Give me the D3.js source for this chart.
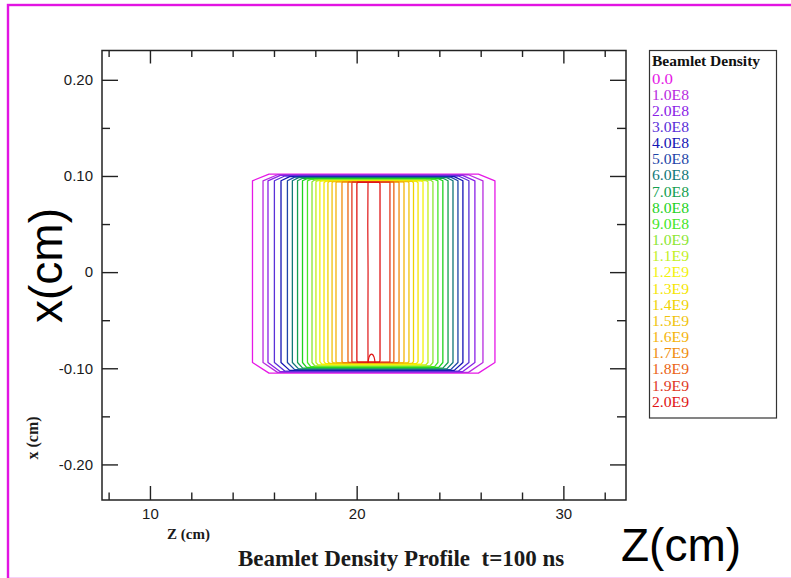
<!DOCTYPE html>
<html><head><meta charset="utf-8">
<script src="https://cdn.jsdelivr.net/npm/d3@7"></script>
<style>body{margin:0;background:#fff;overflow:hidden} svg{display:block}</style>
</head><body>
<svg id="c" width="791" height="578"></svg>
<script>
// ---- data ----
const levelLabels = ["0.0","1.0E8","2.0E8","3.0E8","4.0E8","5.0E8","6.0E8","7.0E8","8.0E8","9.0E8",
  "1.0E9","1.1E9","1.2E9","1.3E9","1.4E9","1.5E9","1.6E9","1.7E9","1.8E9","1.9E9","2.0E9"];
const levelColors = ["#e619e6","#b82ce0","#8a22e6","#5a30d8","#1414b4","#1e46a8","#127878","#14a050","#1ed21e","#46e628",
  "#8ce632","#c3ef1e","#f2f20a","#f5e600","#f0d200","#f0c30a","#f5b40a","#f08c0a","#eb6414","#e0381e","#e01414"];
// contour extents (z in cm, x in cm)
const zLeft   = [14.96,15.47,15.71,16.02,16.34,16.65,16.89,17.14,17.38,17.62,17.84,18.03,18.22,18.42,18.61,18.81,19.00,19.29,19.58,19.77,20.01];
const zRight  = [26.69,26.11,25.72,25.43,25.14,24.90,24.66,24.42,24.17,23.93,23.69,23.45,23.21,22.97,22.75,22.53,22.29,22.05,21.80,21.61,21.13];
const xTop    = [0.102,0.1013,0.1006,0.1,0.0994,0.0988,0.0982,0.0976,0.097,0.0964,0.0958,0.0953,0.0949,0.0946,0.0944,0.0942,0.094,0.0939,0.0938,0.0937,0.0935];
const xBottom = [-0.105,-0.1043,-0.1036,-0.1029,-0.1022,-0.1014,-0.1006,-0.0998,-0.099,-0.0982,-0.0974,-0.0966,-0.0958,-0.0952,-0.0948,-0.0945,-0.0943,-0.0941,-0.0939,-0.0937,-0.0935];
const xSideTop    = [0.095,0.095,0.095,0.095,0.095,0.095,0.095,0.095,0.095,0.095,0.094,0.094,0.094,0.093,0.093,0.093,0.093,0.093,0.093,0.093,0.092];
const xSideBottom = [-0.094,-0.094,-0.094,-0.094,-0.094,-0.094,-0.094,-0.094,-0.094,-0.094,-0.094,-0.094,-0.093,-0.093,-0.093,-0.093,-0.093,-0.093,-0.093,-0.093,-0.092];
const cornerZ = [0.80,0.70,0.60,0.50,0.42,0.35,0.30,0.25,0.20,0.16,0.13,0.11,0.09,0.08,0.07,0.06,0.05,0.05,0.04,0.04,0.03];
// inner ridge of the 2.0E9 contour and the small bump at its foot
const ridgePts = [[20.55,0.0935],[20.53,0.05],[20.56,0.0],[20.54,-0.05],[20.55,-0.0945]];
const bumpPts  = [[20.55,-0.0945],[20.58,-0.088],[20.72,-0.0838],[20.86,-0.088],[20.89,-0.0945]];
// axes
const zDomain = [7.68, 33.03];
const xDomain = [-0.237, 0.2305];
const zMajor = [10,20,30];
const zMajorLabels = ["10","20","30"];
const zMinor = [8,12,14,16,18,22,24,26,28,32];
const xMajor = [0.2,0.1,0,-0.1,-0.2];
const xMajorLabels = ["0.20","0.10","0","-0.10","-0.20"];
const xMinor = [0.15,0.05,-0.05,-0.15];
const legendTitle = "Beamlet Density";
const chartTitle = "Beamlet Density Profile\u00a0\u00a0t=100 ns";

// ---- drawing ----
const svg = d3.select("#c");
const L = 102, R = 626, T = 50.5, B = 500;
const zs = d3.scaleLinear().domain(zDomain).range([L, R]);
const xs = d3.scaleLinear().domain(xDomain).range([B, T]);

// slide frame
svg.append("rect").attr("x",8).attr("y",5).attr("width",820).attr("height",574)
  .attr("fill","none").attr("stroke","#e214e2").attr("stroke-width",2.4);

// contours
const line = d3.line().x(d=>zs(d[0])).y(d=>xs(d[1])).curve(d3.curveLinearClosed);
const openLine = d3.line().x(d=>zs(d[0])).y(d=>xs(d[1])).curve(d3.curveBasis);
const gC = svg.append("g");
levelLabels.forEach((lab,i)=>{
  const zl=zLeft[i], zr=zRight[i], c=cornerZ[i];
  const pts = [
    [zl, xSideTop[i]], [zl+c, xTop[i]], [zr-c, xTop[i]], [zr, xSideTop[i]],
    [zr, xSideBottom[i]], [zr-c, xBottom[i]], [zl+c, xBottom[i]], [zl, xSideBottom[i]]
  ];
  gC.append("path").attr("d", line(pts)).attr("fill","none")
    .attr("stroke", levelColors[i]).attr("stroke-width",1.3).attr("stroke-linejoin","round");
});
gC.append("path").attr("d", openLine(ridgePts)).attr("fill","none").attr("stroke",levelColors[20]).attr("stroke-width",1.2);
gC.append("path").attr("d", openLine(bumpPts)).attr("fill","none").attr("stroke",levelColors[20]).attr("stroke-width",1.2);

// axes
const fmtZ = d => zMajorLabels[zMajor.indexOf(d)];
const fmtX = d => xMajorLabels[xMajor.indexOf(d)];
function styleAxis(g){
  g.select(".domain").remove();
  g.selectAll("line").attr("stroke","#222").attr("stroke-width",1.4);
  g.selectAll("text").attr("fill","#1a1a1a").attr("font-family","'Liberation Sans',Arial,sans-serif").attr("font-size","15px");
}
svg.append("g").attr("transform",`translate(0,${B})`)
  .call(d3.axisBottom(zs).tickValues(zMajor).tickSize(-14).tickPadding(8).tickFormat(fmtZ)).call(styleAxis);
svg.append("g").attr("transform",`translate(0,${B})`)
  .call(d3.axisBottom(zs).tickValues(zMinor).tickSize(-7.5).tickFormat("")).call(styleAxis);
svg.append("g").attr("transform",`translate(0,${T})`)
  .call(d3.axisTop(zs).tickValues(zMajor).tickSize(-13).tickFormat("")).call(styleAxis);
svg.append("g").attr("transform",`translate(0,${T})`)
  .call(d3.axisTop(zs).tickValues(zMinor).tickSize(-6.5).tickFormat("")).call(styleAxis);
svg.append("g").attr("transform",`translate(${L},0)`)
  .call(d3.axisLeft(xs).tickValues(xMajor).tickSize(-16).tickPadding(9).tickFormat(fmtX)).call(styleAxis);
svg.append("g").attr("transform",`translate(${L},0)`)
  .call(d3.axisLeft(xs).tickValues(xMinor).tickSize(-8).tickFormat("")).call(styleAxis);
svg.append("g").attr("transform",`translate(${R},0)`)
  .call(d3.axisRight(xs).tickValues(xMajor).tickSize(-16).tickFormat("")).call(styleAxis);
svg.append("g").attr("transform",`translate(${R},0)`)
  .call(d3.axisRight(xs).tickValues(xMinor).tickSize(-9).tickFormat("")).call(styleAxis);

// plot frame
svg.append("rect").attr("x",L).attr("y",T).attr("width",R-L).attr("height",B-T)
  .attr("fill","none").attr("stroke","#222").attr("stroke-width",1.5);

// small axis titles (serif)
const serif = "'Liberation Serif','Times New Roman',serif";
svg.append("text").attr("x",167).attr("y",539).attr("font-family",serif).attr("font-weight","bold")
  .attr("font-size","15px").attr("fill","#1a1a1a").text("Z (cm)");
svg.append("text").attr("transform","translate(38,438) rotate(-90)").attr("text-anchor","middle")
  .attr("font-family",serif).attr("font-weight","bold").attr("font-size","16px").attr("fill","#1a1a1a")
  .text("x (cm)");

// chart title
svg.append("text").attr("x",238).attr("y",566).attr("font-family",serif).attr("font-weight","bold")
  .attr("font-size","23px").attr("fill","#1a1a1a").text(chartTitle);

// big annotations
svg.append("text").attr("transform","translate(62,265.5) rotate(-90)").attr("text-anchor","middle")
  .attr("font-family","'Liberation Sans',Arial,sans-serif").attr("font-size","46px").attr("fill","#000").text("x(cm)");
svg.append("text").attr("x",621).attr("y",561)
  .attr("font-family","'Liberation Sans',Arial,sans-serif").attr("font-size","46px").attr("fill","#000").text("Z(cm)");

// legend
const lg = svg.append("g");
lg.append("rect").attr("x",649.5).attr("y",50.5).attr("width",127).attr("height",367.5)
  .attr("fill","#fff").attr("stroke","#333").attr("stroke-width",1.2);
lg.append("text").attr("x",652).attr("y",66).attr("font-family",serif).attr("font-weight","bold")
  .attr("font-size","15.5px").attr("fill","#111").text(legendTitle);
const ly = d3.scalePoint().domain(levelLabels).range([83.5, 406.7]);
lg.selectAll("text.lv").data(levelLabels).join("text").attr("class","lv")
  .attr("x",652).attr("y",d=>ly(d)).attr("font-family",serif).attr("font-size","14px")
  .attr("textLength",d=>d.length===3?21:37).attr("lengthAdjust","spacingAndGlyphs")
  .attr("fill",(d,i)=>levelColors[i]).text(d=>d);
</script>
</body></html>
